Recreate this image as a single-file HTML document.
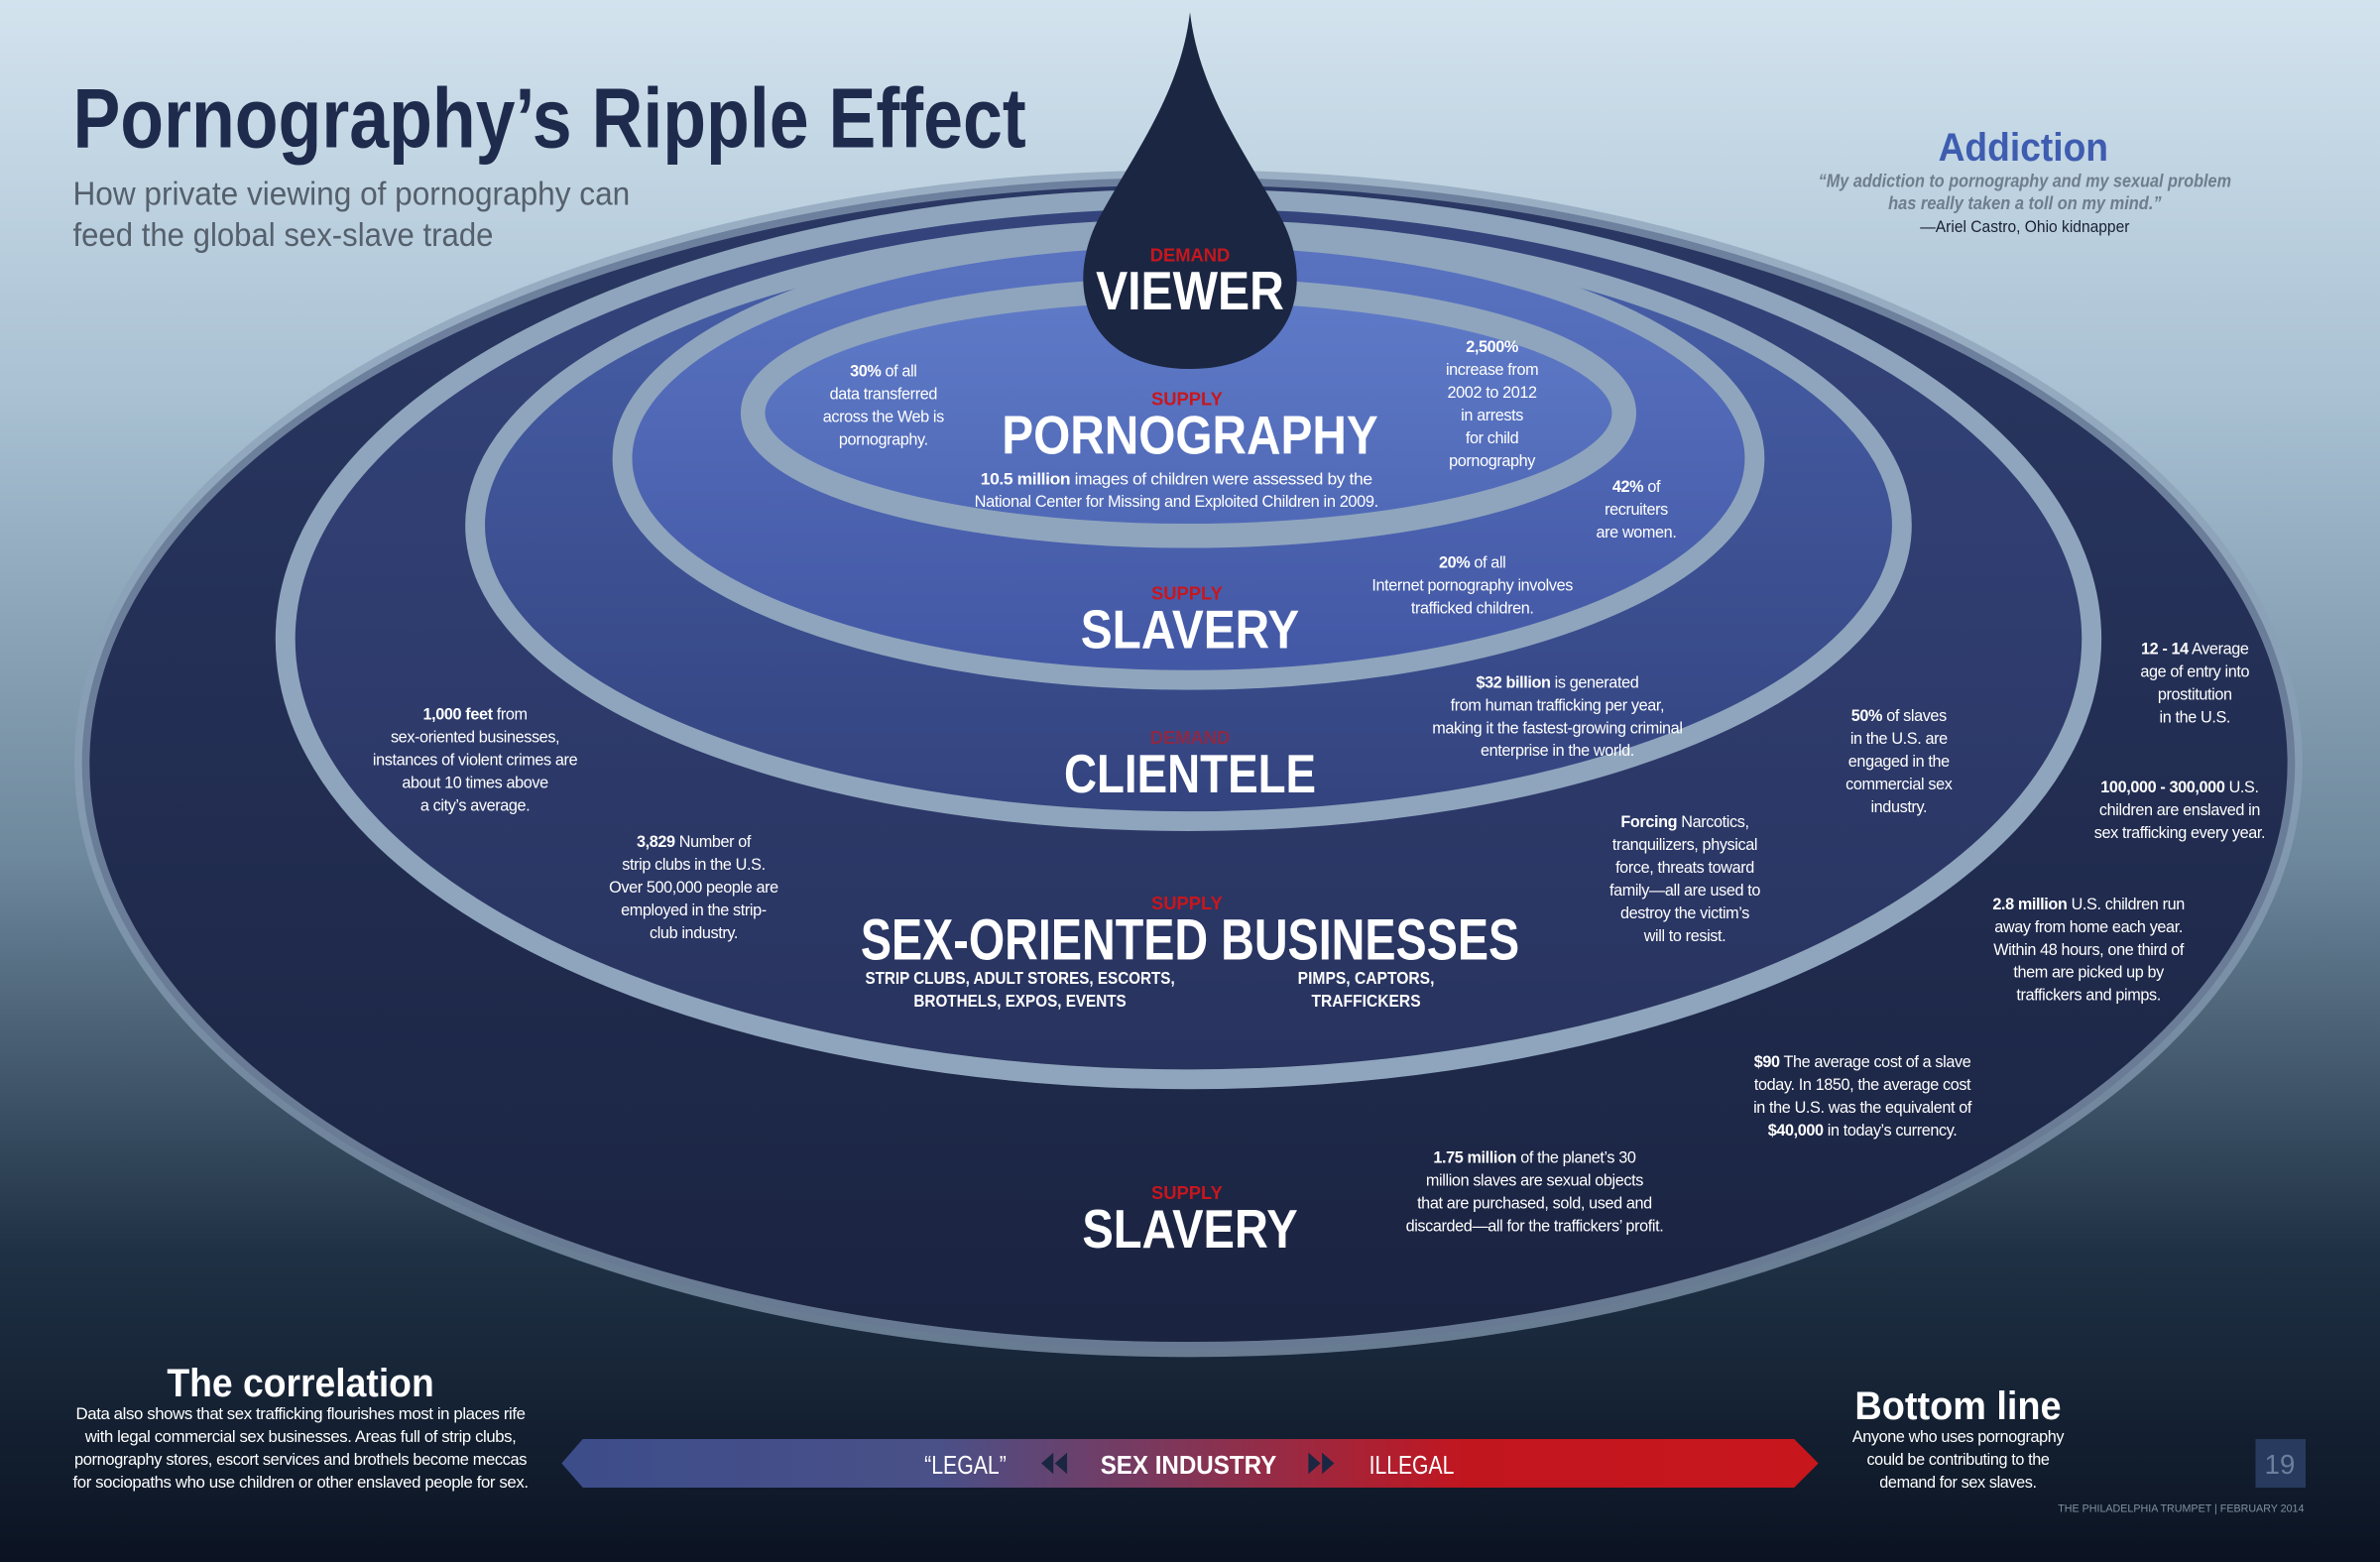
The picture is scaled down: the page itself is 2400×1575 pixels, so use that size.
<!DOCTYPE html>
<html><head><meta charset="utf-8"><style>
html,body{margin:0;padding:0;background:#0d1626;}
svg{display:block}
text{font-family:"Liberation Sans Narrow","Liberation Sans",sans-serif;}
.b{fill:#fff;font-size:10.6px;letter-spacing:-0.25px;text-anchor:middle}
.b tspan.k{font-weight:bold}
.big{fill:#fff;font-weight:bold;text-anchor:middle}
.red{fill:#c8161d;font-weight:bold;text-anchor:middle;font-size:12px}
</style></head><body>
<svg width="2400" height="1575" viewBox="0 0 1568 1029" xmlns="http://www.w3.org/2000/svg">
<defs>
<linearGradient id="sky" x1="0" y1="0" x2="0" y2="1">
<stop offset="0" stop-color="#d3e3ee"/><stop offset="0.25" stop-color="#a9c1d3"/><stop offset="0.55" stop-color="#6d879c"/><stop offset="0.8" stop-color="#1f3145"/><stop offset="1" stop-color="#0b1322"/></linearGradient>
<linearGradient id="gA" x1="0" y1="0" x2="0" y2="1"><stop offset="0" stop-color="#2a3864"/><stop offset="1" stop-color="#1a2340"/></linearGradient>
<linearGradient id="gB" x1="0" y1="0" x2="0" y2="1"><stop offset="0" stop-color="#34447c"/><stop offset="1" stop-color="#28335e"/></linearGradient>
<linearGradient id="gC" x1="0" y1="0" x2="0" y2="1"><stop offset="0" stop-color="#4860aa"/><stop offset="1" stop-color="#33437e"/></linearGradient>
<linearGradient id="gD" x1="0" y1="0" x2="0" y2="1"><stop offset="0" stop-color="#5a74c2"/><stop offset="1" stop-color="#4257a4"/></linearGradient>
<linearGradient id="gE" x1="0" y1="0" x2="0" y2="1"><stop offset="0" stop-color="#5f7bc8"/><stop offset="1" stop-color="#4f68b6"/></linearGradient>
<linearGradient id="arr" x1="0" y1="0" x2="1" y2="0"><stop offset="0" stop-color="#3c4d8a"/><stop offset="0.3" stop-color="#4a5088"/><stop offset="0.72" stop-color="#c2161f"/><stop offset="1" stop-color="#c8161d"/></linearGradient>
</defs>
<rect width="1568" height="1029" fill="url(#sky)"/>
<ellipse cx="783" cy="503" rx="729" ry="386" fill="url(#gA)" stroke="#8a9fb6" stroke-opacity="0.7" stroke-width="10"/>
<ellipse cx="783" cy="421" rx="595" ry="290" fill="url(#gB)" stroke="#8fa5bd" stroke-width="13"/>
<ellipse cx="783" cy="346" rx="470" ry="195" fill="url(#gC)" stroke="#8fa5bd" stroke-width="13"/>
<ellipse cx="783" cy="302" rx="373" ry="146" fill="url(#gD)" stroke="#8fa5bd" stroke-width="13"/>
<ellipse cx="783" cy="272" rx="287" ry="81" fill="url(#gE)" stroke="#8fa5bd" stroke-width="16"/>
<path d="M784 8 C790 60 820 100 842 140 C868 185 855 243 784 243 C713 243 700 185 726 140 C748 100 778 60 784 8 Z" fill="#1b2642"/>
<text x="48" y="97" font-size="56" font-weight="bold" fill="#1f2b4d" textLength="628" lengthAdjust="spacingAndGlyphs" style="font-family:'Liberation Sans',sans-serif">Pornography’s Ripple Effect</text>
<text x="48" y="135" font-size="22" fill="#55606c" textLength="367" lengthAdjust="spacingAndGlyphs">How private viewing of pornography can</text>
<text x="48" y="162" font-size="22" fill="#55606c" textLength="277" lengthAdjust="spacingAndGlyphs">feed the global sex-slave trade</text>
<text x="1333" y="106" font-size="26" font-weight="bold" fill="#3e5db0" text-anchor="middle" textLength="112" lengthAdjust="spacingAndGlyphs">Addiction</text>
<text x="1334" y="123" font-size="12" font-weight="bold" font-style="italic" fill="#6f7d8c" text-anchor="middle" textLength="272" lengthAdjust="spacingAndGlyphs">“My addiction to pornography and my sexual problem</text>
<text x="1334" y="138" font-size="12" font-weight="bold" font-style="italic" fill="#6f7d8c" text-anchor="middle" textLength="180" lengthAdjust="spacingAndGlyphs">has really taken a toll on my mind.”</text>
<text x="1334" y="153" font-size="11" fill="#1a2033" text-anchor="middle" textLength="138" lengthAdjust="spacingAndGlyphs">—Ariel Castro, Ohio kidnapper</text>
<text x="784" y="172" class="red">DEMAND</text>
<text x="784" y="204" class="big" font-size="36" textLength="124" lengthAdjust="spacingAndGlyphs">VIEWER</text>
<text x="782" y="267" class="red">SUPPLY</text>
<text x="784" y="299" class="big" font-size="36" textLength="248" lengthAdjust="spacingAndGlyphs">PORNOGRAPHY</text>
<text x="782" y="395" class="red">SUPPLY</text>
<text x="784" y="427" class="big" font-size="36" textLength="144" lengthAdjust="spacingAndGlyphs">SLAVERY</text>
<text x="784" y="490" class="red" fill-opacity="0.6">DEMAND</text>
<text x="784" y="522" class="big" font-size="36" textLength="166" lengthAdjust="spacingAndGlyphs">CLIENTELE</text>
<text x="782" y="599" class="red">SUPPLY</text>
<text x="784" y="632" class="big" font-size="38" textLength="434" lengthAdjust="spacingAndGlyphs">SEX-ORIENTED BUSINESSES</text>
<text x="672" y="648" class="big" font-size="11.5" textLength="204" lengthAdjust="spacingAndGlyphs">STRIP CLUBS, ADULT STORES, ESCORTS,</text>
<text x="672" y="663" class="big" font-size="11.5" textLength="140" lengthAdjust="spacingAndGlyphs">BROTHELS, EXPOS, EVENTS</text>
<text x="900" y="648" class="big" font-size="11.5" textLength="90" lengthAdjust="spacingAndGlyphs">PIMPS, CAPTORS,</text>
<text x="900" y="663" class="big" font-size="11.5" textLength="72" lengthAdjust="spacingAndGlyphs">TRAFFICKERS</text>
<text x="782" y="790" class="red">SUPPLY</text>
<text x="784" y="822" class="big" font-size="36" textLength="142" lengthAdjust="spacingAndGlyphs">SLAVERY</text>
<text class="b"><tspan x="582" y="248"><tspan class="k">30%</tspan> of all</tspan><tspan x="582" y="263">data transferred</tspan><tspan x="582" y="278">across the Web is</tspan><tspan x="582" y="293">pornography.</tspan></text>
<text class="b"><tspan x="775" y="319" textLength="258" lengthAdjust="spacingAndGlyphs"><tspan class="k">10.5 million</tspan> images of children were assessed by the</tspan><tspan x="775" y="334" textLength="266" lengthAdjust="spacingAndGlyphs">National Center for Missing and Exploited Children in 2009.</tspan></text>
<text class="b"><tspan x="983" y="232" class="k">2,500%</tspan><tspan x="983" y="247">increase from</tspan><tspan x="983" y="262">2002 to 2012</tspan><tspan x="983" y="277">in arrests</tspan><tspan x="983" y="292">for child</tspan><tspan x="983" y="307">pornography</tspan></text>
<text class="b"><tspan x="1078" y="324"><tspan class="k">42%</tspan> of</tspan><tspan x="1078" y="339">recruiters</tspan><tspan x="1078" y="354">are women.</tspan></text>
<text class="b"><tspan x="970" y="374"><tspan class="k">20%</tspan> of all</tspan><tspan x="970" y="389">Internet pornography involves</tspan><tspan x="970" y="404">trafficked children.</tspan></text>
<text class="b"><tspan x="1026" y="453"><tspan class="k">$32 billion</tspan> is generated</tspan><tspan x="1026" y="468">from human trafficking per year,</tspan><tspan x="1026" y="483">making it the fastest-growing criminal</tspan><tspan x="1026" y="498">enterprise in the world.</tspan></text>
<text class="b"><tspan x="313" y="474"><tspan class="k">1,000 feet</tspan> from</tspan><tspan x="313" y="489">sex-oriented businesses,</tspan><tspan x="313" y="504">instances of violent crimes are</tspan><tspan x="313" y="519">about 10 times above</tspan><tspan x="313" y="534">a city’s average.</tspan></text>
<text class="b"><tspan x="457" y="558"><tspan class="k">3,829</tspan>  Number of</tspan><tspan x="457" y="573">strip clubs in the U.S.</tspan><tspan x="457" y="588">Over 500,000 people are</tspan><tspan x="457" y="603">employed in the strip-</tspan><tspan x="457" y="618">club industry.</tspan></text>
<text class="b"><tspan x="1251" y="475"><tspan class="k">50%</tspan> of slaves</tspan><tspan x="1251" y="490">in the U.S. are</tspan><tspan x="1251" y="505">engaged in the</tspan><tspan x="1251" y="520">commercial sex</tspan><tspan x="1251" y="535">industry.</tspan></text>
<text class="b"><tspan x="1110" y="545"><tspan class="k">Forcing</tspan>  Narcotics,</tspan><tspan x="1110" y="560">tranquilizers, physical</tspan><tspan x="1110" y="575">force, threats toward</tspan><tspan x="1110" y="590">family—all are used to</tspan><tspan x="1110" y="605">destroy the victim’s</tspan><tspan x="1110" y="620">will to resist.</tspan></text>
<text class="b"><tspan x="1446" y="431"><tspan class="k">12 - 14</tspan>  Average</tspan><tspan x="1446" y="446">age of entry into</tspan><tspan x="1446" y="461">prostitution</tspan><tspan x="1446" y="476">in the U.S.</tspan></text>
<text class="b"><tspan x="1436" y="522"><tspan class="k">100,000 - 300,000</tspan> U.S.</tspan><tspan x="1436" y="537">children are enslaved in</tspan><tspan x="1436" y="552">sex trafficking every year.</tspan></text>
<text class="b"><tspan x="1376" y="599"><tspan class="k">2.8 million</tspan> U.S. children run</tspan><tspan x="1376" y="614">away from home each year.</tspan><tspan x="1376" y="629">Within 48 hours, one third of</tspan><tspan x="1376" y="644">them are picked up by</tspan><tspan x="1376" y="659">traffickers and pimps.</tspan></text>
<text class="b"><tspan x="1227" y="703"><tspan class="k">$90</tspan>  The average cost of a slave</tspan><tspan x="1227" y="718">today. In 1850, the average cost</tspan><tspan x="1227" y="733">in the U.S. was the equivalent of</tspan><tspan x="1227" y="748"><tspan class="k">$40,000</tspan> in today’s currency.</tspan></text>
<text class="b"><tspan x="1011" y="766"><tspan class="k">1.75 million</tspan> of the planet’s 30</tspan><tspan x="1011" y="781">million slaves are sexual objects</tspan><tspan x="1011" y="796">that are purchased, sold, used and</tspan><tspan x="1011" y="811">discarded—all for the traffickers’ profit.</tspan></text>
<text x="198" y="920" class="big" font-size="26" textLength="176" lengthAdjust="spacingAndGlyphs">The correlation</text>
<text class="b"><tspan x="198" y="935" textLength="296" lengthAdjust="spacingAndGlyphs">Data also shows that sex trafficking flourishes most in places rife</tspan><tspan x="198" y="950" textLength="284" lengthAdjust="spacingAndGlyphs">with legal commercial sex businesses. Areas full of strip clubs,</tspan><tspan x="198" y="965" textLength="298" lengthAdjust="spacingAndGlyphs">pornography stores, escort services and brothels become meccas</tspan><tspan x="198" y="980" textLength="300" lengthAdjust="spacingAndGlyphs">for sociopaths who use children or other enslaved people for sex.</tspan></text>
<path d="M384 948 L1182 948 L1198 964 L1182 980 L384 980 L370 964 Z" fill="url(#arr)"/>
<text x="636" y="971" font-size="17" fill="#fff" text-anchor="middle" textLength="54" lengthAdjust="spacingAndGlyphs">“LEGAL”</text>
<path d="M694 957 L686 964 L694 971 Z M703 957 L695 964 L703 971 Z" fill="#1b2642"/>
<text x="783" y="971" class="big" font-size="17" textLength="116" lengthAdjust="spacingAndGlyphs">SEX INDUSTRY</text>
<path d="M862 957 L870 964 L862 971 Z M871 957 L879 964 L871 971 Z" fill="#1b2642"/>
<text x="930" y="971" font-size="17" fill="#fff" text-anchor="middle" textLength="56" lengthAdjust="spacingAndGlyphs">ILLEGAL</text>
<text x="1290" y="935" class="big" font-size="26" textLength="136" lengthAdjust="spacingAndGlyphs">Bottom line</text>
<text class="b"><tspan x="1290" y="950">Anyone who uses pornography</tspan><tspan x="1290" y="965">could be contributing to the</tspan><tspan x="1290" y="980">demand for sex slaves.</tspan></text>
<rect x="1486" y="948" width="33" height="32" fill="#283a5e"/>
<text x="1502" y="971" font-size="18" fill="#6d7f9c" text-anchor="middle">19</text>
<text x="1518" y="996" font-size="7" fill="#8090a0" text-anchor="end">THE PHILADELPHIA TRUMPET  |  FEBRUARY 2014</text>
</svg>
</body></html>
